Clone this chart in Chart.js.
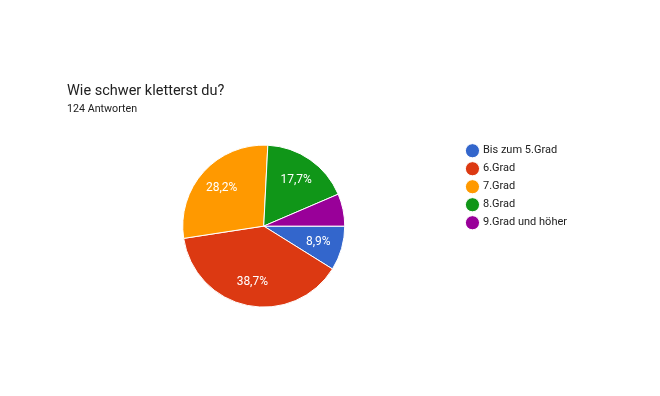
<!DOCTYPE html>
<html>
<head>
<meta charset="utf-8">
<script src="https://cdn.jsdelivr.net/npm/chart.js@4.4.0/dist/chart.umd.min.js"></script>
<style>
  html, body { margin: 0; padding: 0; background: #fff; }
  #wrap { position: relative; width: 660px; height: 396px; }
</style>
</head>
<body>
<div id="wrap"><canvas id="chart1" width="660" height="396"></canvas></div>
<script>
var titleText = "Wie schwer kletterst du?";
var subtitleText = "124 Antworten";

var labels = ["Bis zum 5.Grad", "6.Grad", "7.Grad", "8.Grad", "9.Grad und höher"];
var counts = [11, 48, 35, 22, 8];
var colors = ["#3366cc", "#dc3912", "#ff9900", "#109618", "#990099"];

var total = counts.reduce(function (a, b) { return a + b; }, 0);

// percentage labels inside the slices, like google forms
var sliceLabels = {
  id: "sliceLabels",
  afterDatasetsDraw: function (chart) {
    var ctx = chart.ctx;
    var meta = chart.getDatasetMeta(0);
    ctx.save();
    ctx.fillStyle = "#ffffff";
    ctx.font = "12px Roboto";
    ctx.textAlign = "center";
    ctx.textBaseline = "middle";
    meta.data.forEach(function (arc, i) {
      var pct = counts[i] / total * 100;
      if (pct < 7) return;
      var mid = (arc.startAngle + arc.endAngle) / 2;
      var r = arc.outerRadius * 0.7;
      var x = arc.x + Math.cos(mid) * r;
      var y = arc.y + Math.sin(mid) * r;
      ctx.fillText(pct.toFixed(1).replace(".", ",") + "%", x, y);
    });
    ctx.restore();
  }
};

var ctx = document.getElementById("chart1").getContext("2d");
var myChart = new Chart(ctx, {
  type: "pie",
  data: {
    labels: labels,
    datasets: [
      {
        data: counts,
        backgroundColor: colors,
        borderColor: "#ffffff",
        borderWidth: 1,
        radius: 81,
      },
    ],
  },
  options: {
    responsive: false,
    animation: false,
    rotation: 90,
    layout: {
      padding: { left: 67, right: 83, top: 0, bottom: 82 },
    },
    plugins: {
      title: {
        display: true,
        text: titleText,
        align: "start",
        color: "#212121",
        font: { family: "Roboto", size: 14.5, weight: "normal" },
        padding: { top: 83, bottom: 3 },
      },
      subtitle: {
        display: true,
        text: subtitleText,
        align: "start",
        color: "#212121",
        font: { family: "Roboto", size: 10.7, weight: "normal" },
        padding: { top: 0, bottom: 22 },
      },
      legend: {
        position: "right",
        align: "start",
        fullSize: false,
        labels: {
          usePointStyle: true,
          pointStyle: "circle",
          boxWidth: 10,
          boxHeight: 10,
          padding: 7,
          color: "#212121",
          font: { family: "Roboto", size: 11 },
        },
      },
      tooltip: { enabled: false },
    },
  },
  plugins: [sliceLabels],
});
</script>
</body>
</html>
